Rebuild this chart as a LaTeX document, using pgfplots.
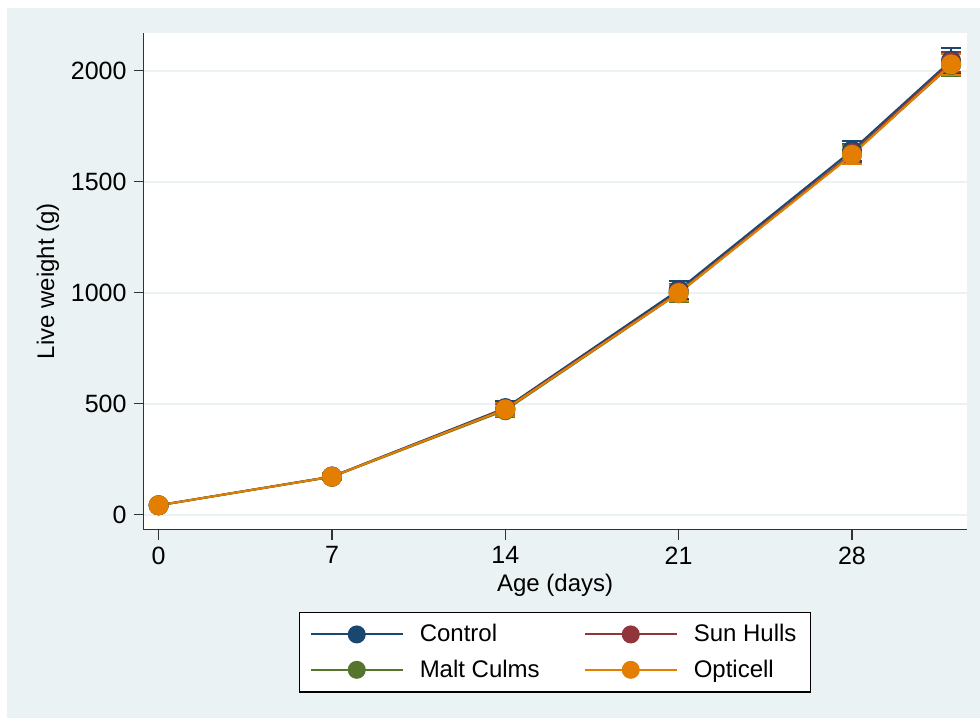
\documentclass[border=0pt]{standalone}
\usepackage{fontspec}
\setmainfont{Liberation Sans}
\usepackage{pgfplots}
\usepackage{pgfplotstable}
\pgfplotsset{compat=1.18}
\definecolor{bgc}{RGB}{234,242,243}
\definecolor{cnavy}{RGB}{26,71,111}
\definecolor{cmaroon}{RGB}{144,53,59}
\definecolor{cgreen}{RGB}{85,117,47}
\definecolor{corange}{RGB}{227,126,0}
\definecolor{axc}{RGB}{50,50,50}

\pgfplotstableread{
d   c     ce  s     se  m     me  o     oe
0   42    5   42    5   42    5   42    5
7   172   15  171   15  170   15  171   15
14  480   30  476   28  470   30  474   28
21  1012  40  1002  38  997   40  998   38
28  1640  45  1628  42  1622  42  1620  42
32  2045  55  2038  45  2025  48  2028  48
}\datatab

\begin{document}
\begin{tikzpicture}[x=1pt,y=1pt]
\useasboundingbox (0,0) rectangle (490,362.5);
\fill[white] (0,0) rectangle (490,362.5);
\fill[bgc] (3.5,3.5) rectangle (490,358.5);
\begin{axis}[
  at={(58,88)}, anchor=south west,
  scale only axis, width=411.5pt, height=248.5pt,
  xmin=-0.606, xmax=32.63, ymin=-67.6, ymax=2171,
  axis background/.style={fill=white},
  axis x line*=bottom, axis y line*=left,
  axis line style={axc, line width=0.8pt, -},
  xtick={0,7,14,21,28}, ytick={0,500,1000,1500,2000},
  tick align=outside, major tick length=5pt,
  tick style={axc, line width=0.8pt},
  ymajorgrids, grid style={bgc, line width=1pt},
  /pgf/number format/assume math mode=true,
  /pgf/number format/1000 sep={},
  ticklabel style={font=\fontsize{12.5}{14}\selectfont},
  label style={font=\fontsize{12}{14}\selectfont},
  xlabel={Age (days)}, ylabel={Live weight (g)},
  xlabel style={yshift=2pt},
  ylabel style={yshift=-1pt},
  legend columns=2,
  legend style={at={(0.5,0)}, anchor=north, yshift=-41pt,
    font=\fontsize{12}{14}\selectfont, draw=black, line width=0.6pt, fill=white,
    inner xsep=5pt, inner ysep=4pt,
    /tikz/every even column/.append style={column sep=20pt},
    /tikz/every odd column/.append style={column sep=6pt},
    row sep=3.5pt},
  legend cell align=left,
  legend image code/.code={\draw[mark repeat=2,mark phase=2,#1,mark size=4pt] plot coordinates {(0pt,0pt) (23pt,0pt) (46pt,0pt)};},
  every axis plot/.append style={line width=1pt, mark=*, mark size=4.5pt},
  error bars/error mark options={line width=1pt, mark size=5pt, rotate=90},
]
\addplot[cnavy, mark options={fill=cnavy}, error bars/.cd, y dir=both, y explicit, error bar style={cnavy, line width=1pt}]
  table[x=d, y=c, y error=ce] {\datatab};
\addlegendentry{Control}
\addplot[cmaroon, mark options={fill=cmaroon}, error bars/.cd, y dir=both, y explicit, error bar style={cmaroon, line width=1pt}]
  table[x=d, y=s, y error=se] {\datatab};
\addlegendentry{Sun Hulls}
\addplot[cgreen, mark options={fill=cgreen}, error bars/.cd, y dir=both, y explicit, error bar style={cgreen, line width=1pt}]
  table[x=d, y=m, y error=me] {\datatab};
\addlegendentry{Malt Culms}
\addplot[corange, mark options={fill=corange}, error bars/.cd, y dir=both, y explicit, error bar style={corange, line width=1pt}]
  table[x=d, y=o, y error=oe] {\datatab};
\addlegendentry{Opticell}
\end{axis}
\end{tikzpicture}
\end{document}
